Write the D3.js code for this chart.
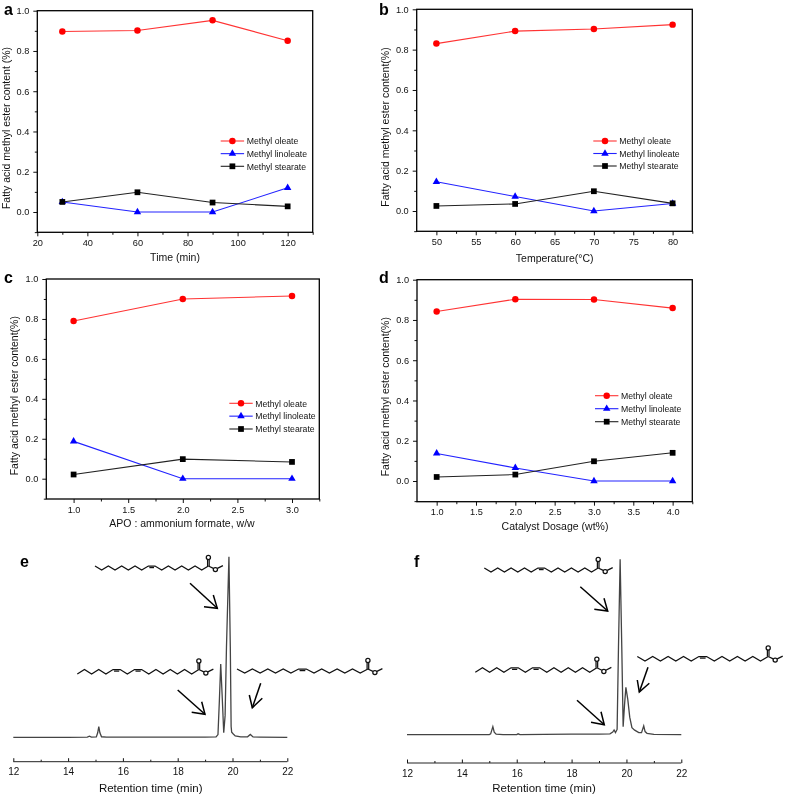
<!DOCTYPE html>
<html><head><meta charset="utf-8">
<style>html,body{margin:0;padding:0;background:#fff}svg{display:block;filter:blur(0.3px)}text{font-family:"Liberation Sans",Arial,sans-serif;fill:#111}</style>
<script src="https://cdn.jsdelivr.net/npm/d3@7"></script></head>
<body><svg id="c" width="785" height="797"></svg>
<script>
const seriesNames = ["Methyl oleate","Methyl linoleate","Methyl stearate"];
const timeX = [30,60,90,120];
const timeOleate = [0.897,0.902,0.952,0.851];
const timeLinoleate = [0.05,0,0,0.12];
const timeStearate = [0.05,0.098,0.047,0.028];
const tempX = [50,60,70,80];
const tempOleate = [0.83,0.892,0.902,0.924];
const tempLinoleate = [0.145,0.072,0,0.037];
const tempStearate = [0.025,0.035,0.098,0.038];
const ratioX = [1,2,3];
const ratioOleate = [0.79,0.9,0.915];
const ratioLinoleate = [0.187,0,0];
const ratioStearate = [0.021,0.098,0.084];
const dosageX = [1,2,3,4];
const dosageOleate = [0.842,0.903,0.902,0.859];
const dosageLinoleate = [0.137,0.065,0,0];
const dosageStearate = [0.02,0.032,0.098,0.14];
const yTicks = [0,0.2,0.4,0.6,0.8,1.0];
const chromETime = [12,13,14,14.7,14.78,14.85,15.03,15.08,15.12,15.16,15.22,15.4,16,17,18,19,19.4,19.47,19.52,19.57,19.62,19.68,19.73,19.78,19.87,19.92,19.95,19.97,20.02,20.1,20.3,20.55,20.65,20.75,21,22];
const chromEInt = [0,0,0,0.1,0.6,0.1,0.2,2.5,5.9,2.5,0.3,0.1,0.1,0.1,0.1,0.1,0.2,1.5,20,40.6,24,2.5,12,50,100,50,6,2.8,2,0.8,0.2,0.3,1.6,0.2,0.1,0];
const chromFTime = [12,13,14,15,15.05,15.13,15.18,15.25,15.5,16,16.05,16.12,17,18,19,19.4,19.5,19.55,19.6,19.66,19.71,19.77,19.83,19.88,19.93,19.98,20.05,20.12,20.2,20.3,20.45,20.55,20.63,20.68,20.75,21,22];
const chromFInt = [0,0,0.1,0.1,0.5,4.6,1.5,0.3,0.1,0.1,0.5,0.1,0.2,0.3,0.3,0.5,1.5,2.7,1.2,3,50,100,50,4.6,17,27,20,10,4,2.6,1.2,1.2,5,1.8,0.8,0.2,0];
const chromTicks = [12,14,16,18,20,22];

const svg = d3.select("#c");
const panels = [
 {letter:"a",lx:4,ly:15,L:37.3,R:312.7,T:10.7,Y0:212,B:232.3,xd:[20,130],xmaj:[20,40,60,80,100,120],xmin:[30,50,70,90,110,130],fmt:"d",xs:timeX,v:[timeOleate,timeLinoleate,timeStearate],
  xt:"Time (min)",xtx:175,xty:261,yt:"Fatty acid methyl ester content (%)",ytx:9.5,yty:128,leg:[220.7,141,12.65]},
 {letter:"b",lx:379,ly:15,L:416.7,R:692.3,T:9.3,Y0:211,B:231.3,xd:[47.5,82.5],xmaj:[50,55,60,65,70,75,80],xmin:[52.5,57.5,62.5,67.5,72.5,77.5,82.5],fmt:"d",xs:tempX,v:[tempOleate,tempLinoleate,tempStearate],
  xt:"Temperature(°C)",xtx:554.7,xty:262,yt:"Fatty acid methyl ester content(%)",ytx:388.5,yty:127,leg:[593.3,141,12.5]},
 {letter:"c",lx:4,ly:283,L:46.3,R:319.3,T:279,Y0:478.7,B:499,xd:[0.75,3.25],xmaj:[1,1.5,2,2.5,3],xmin:[1.25,1.75,2.25,2.75,3.25],fmt:".1f",xs:ratioX,v:[ratioOleate,ratioLinoleate,ratioStearate],
  xt:"APO : ammonium formate, w/w",xtx:182,xty:527,yt:"Fatty acid methyl ester content(%)",ytx:18,yty:395.7,leg:[229.3,403.3,12.85]},
 {letter:"d",lx:379,ly:283,L:417,R:692.3,T:279.7,Y0:481,B:501.7,xd:[0.75,4.25],xmaj:[1,1.5,2,2.5,3,3.5,4],xmin:[1.25,1.75,2.25,2.75,3.25,3.75,4.25],fmt:".1f",xs:dosageX,v:[dosageOleate,dosageLinoleate,dosageStearate],
  xt:"Catalyst Dosage (wt%)",xtx:555,xty:530,yt:"Fatty acid methyl ester content(%)",ytx:389,yty:396.7,leg:[595,395.7,13]}
];
const colors = ["#f00","#00f","#000"];
const lineColors = ["#f33","#22f","#222"];
const syms = [d3.symbolCircle,d3.symbolTriangle,d3.symbolSquare];
const symSizes = [33,24,33];
const sym = i => d3.symbol().type(syms[i]).size(symSizes[i])();

function styleAxis(g, size){
  g.select(".domain").remove();
  g.selectAll("line").attr("stroke","#111").attr("stroke-width",1);
  g.selectAll("text").attr("font-size",size||9.2).style("fill","#111");
}
panels.forEach(p=>{
  const x = d3.scaleLinear().domain(p.xd).range([p.L,p.R]);
  const y = d3.scaleLinear().domain([0,1]).range([p.Y0,p.T]);
  const g = svg.append("g");
  const yMinor = [-0.1,0.1,0.3,0.5,0.7,0.9];
  g.append("g").attr("transform",`translate(${p.L},0)`).call(d3.axisLeft(y).tickValues(yMinor).tickSize(2.5).tickFormat("")).call(styleAxis);
  g.append("g").attr("transform",`translate(${p.L},0)`).call(d3.axisLeft(y).tickValues(yTicks).tickSize(4).tickPadding(4).tickFormat(d3.format(".1f"))).call(styleAxis);
  g.append("g").attr("transform",`translate(0,${p.B})`).call(d3.axisBottom(x).tickValues(p.xmin).tickSize(2.5).tickFormat("")).call(styleAxis);
  g.append("g").attr("transform",`translate(0,${p.B})`).call(d3.axisBottom(x).tickValues(p.xmaj).tickSize(4).tickPadding(3).tickFormat(d3.format(p.fmt))).call(styleAxis);
  g.append("rect").attr("x",p.L).attr("y",p.T).attr("width",p.R-p.L).attr("height",p.B-p.T).attr("fill","none").attr("stroke","#000").attr("stroke-width",1.3);
  const line = d3.line().x(d=>x(d[0])).y(d=>y(d[1]));
  p.v.forEach((vals,i)=>{
    const pts = p.xs.map((xv,j)=>[xv,vals[j]]);
    g.append("path").attr("d",line(pts)).attr("fill","none").attr("stroke",lineColors[i]).attr("stroke-width",1.1);
    g.selectAll(null).data(pts).join("path").attr("d",sym(i)).attr("transform",d=>`translate(${x(d[0])},${y(d[1])})`).attr("fill",colors[i]);
  });
  seriesNames.forEach((n,i)=>{
    const ly = p.leg[1]+i*p.leg[2];
    g.append("line").attr("x1",p.leg[0]).attr("x2",p.leg[0]+23.4).attr("y1",ly).attr("y2",ly).attr("stroke",lineColors[i]).attr("stroke-width",1.1);
    g.append("path").attr("d",sym(i)).attr("transform",`translate(${p.leg[0]+11.7},${ly})`).attr("fill",colors[i]);
    g.append("text").attr("x",p.leg[0]+26).attr("y",ly+3.2).attr("font-size",8.7).text(n);
  });
  g.append("text").attr("x",p.xtx).attr("y",p.xty).attr("text-anchor","middle").attr("font-size",10.5).text(p.xt);
  g.append("text").attr("transform",`translate(${p.ytx},${p.yty}) rotate(-90)`).attr("text-anchor","middle").attr("font-size",10.5).text(p.yt);
  svg.append("text").attr("x",p.lx).attr("y",p.ly).attr("font-size",16).attr("font-weight","bold").style("fill","#000").text(p.letter);
});

// Chromatograms
const chroms = [
 {letter:"e",lx:20,ly:567,L:13.3,R:287.3,Y0:737.3,Y100:556.7,AX:761.7,t:chromETime,i:chromEInt,tx:150.7,ty:792},
 {letter:"f",lx:414,ly:567,L:407,R:681.3,Y0:734.7,Y100:559.3,AX:763,t:chromFTime,i:chromFInt,tx:544,ty:792}
];
chroms.forEach(c=>{
  const x = d3.scaleLinear().domain([12,22]).range([c.L,c.R]);
  const y = d3.scaleLinear().domain([0,100]).range([c.Y0,c.Y100]);
  const g = svg.append("g");
  g.append("path").attr("d",d3.line().x(d=>x(d[0])).y(d=>y(d[1]))(c.t.map((v,j)=>[v,c.i[j]]))).attr("fill","none").attr("stroke","#444").attr("stroke-width",1.3);
  const minor=[13,15,17,19,21];
  g.append("g").attr("transform",`translate(0,${c.AX})`).call(d3.axisBottom(x).tickValues(minor).tickSize(-2).tickFormat("")).call(styleAxis,10);
  g.append("g").attr("transform",`translate(0,${c.AX})`).call(d3.axisBottom(x).tickValues(chromTicks).tickSize(-3.5).tickPadding(5).tickFormat(d3.format("d"))).call(styleAxis,10);
  g.append("line").attr("x1",c.L).attr("x2",c.R).attr("y1",c.AX).attr("y2",c.AX).attr("stroke","#222");
  g.selectAll("text").attr("dy","0.85em");
  g.append("text").attr("x",c.tx).attr("y",c.ty).attr("text-anchor","middle").attr("font-size",11.5).text("Retention time (min)");
  svg.append("text").attr("x",c.lx).attr("y",c.ly).attr("font-size",16).attr("font-weight","bold").style("fill","#000").text(c.letter);
});

// Structural formulae: vertex sequence with flat double bonds
function molecule(x0,yLow,dx,amp,flats,startLow){
  const g = svg.append("g").attr("fill","none").attr("stroke","#111").attr("stroke-width",1.25);
  let up = !startLow, pts=[], flat=new Set(flats);
  for(let i=0;i<=17;i++){
    pts.push([x0+i*dx, up? yLow-amp : yLow]);
    if(!flat.has(i)) up=!up;
  }
  g.append("path").attr("d",d3.line()(pts));
  flats.forEach(f=>{
    g.append("line").attr("x1",pts[f][0]+1).attr("x2",pts[f+1][0]-1).attr("y1",pts[f][1]+1.6).attr("y2",pts[f+1][1]+1.6);
  });
  const C = pts[17];
  const Ox = C[0], Oy = C[1]-8.5, Ex = C[0]+7, Ey = C[1]+3.6;
  g.append("line").attr("x1",C[0]-0.8).attr("x2",C[0]-0.8).attr("y1",C[1]).attr("y2",Oy+2);
  g.append("line").attr("x1",C[0]+0.8).attr("x2",C[0]+0.8).attr("y1",C[1]).attr("y2",Oy+2);
  g.append("line").attr("x1",C[0]).attr("y1",C[1]).attr("x2",Ex-2).attr("y2",Ey-1.2);
  g.append("line").attr("x1",Ex+2).attr("y1",Ey-1.2).attr("x2",Ex+7.5).attr("y2",Ey-4);
  g.append("circle").attr("cx",Ox).attr("cy",Oy).attr("r",2.1);
  g.append("circle").attr("cx",Ex).attr("cy",Ey).attr("r",2.1);
}
// oleate e, linoleate e, stearate e, oleate f, linoleate f, stearate f
molecule(95,570,6.67,4,[8],false);
molecule(77.3,674,7.15,4.5,[5,8],true);
molecule(237,673,7.7,4,[8],false);
molecule(484.3,572,6.7,4,[8],false);
molecule(475.3,672.3,7.15,4.5,[5,8],true);
molecule(637.3,661,7.7,4.5,[8],false);

function arrow(x1,y1,x2,y2,b1x,b1y,b2x,b2y){
  const g = svg.append("g").attr("fill","none").attr("stroke","#000").attr("stroke-width",1.5);
  g.append("line").attr("x1",x1).attr("y1",y1).attr("x2",x2).attr("y2",y2);
  g.append("path").attr("d",d3.line()([[b1x,b1y],[x2,y2],[b2x,b2y]]));
}
arrow(190,583.3,217.3,608.3,204,606.7,213.3,595);
arrow(177.7,690,205,714.3,191.7,712.3,201.7,701.7);
arrow(260.7,683.3,252.3,707.7,249.3,695,262.3,698.3);
arrow(580.3,586.7,607.7,611,594.3,609.3,604,598.3);
arrow(577,700.3,604.3,724.7,591,722.3,601,711.7);
arrow(648,667.3,639.3,692,637.3,680,649.3,683.3);
</script></body></html>
